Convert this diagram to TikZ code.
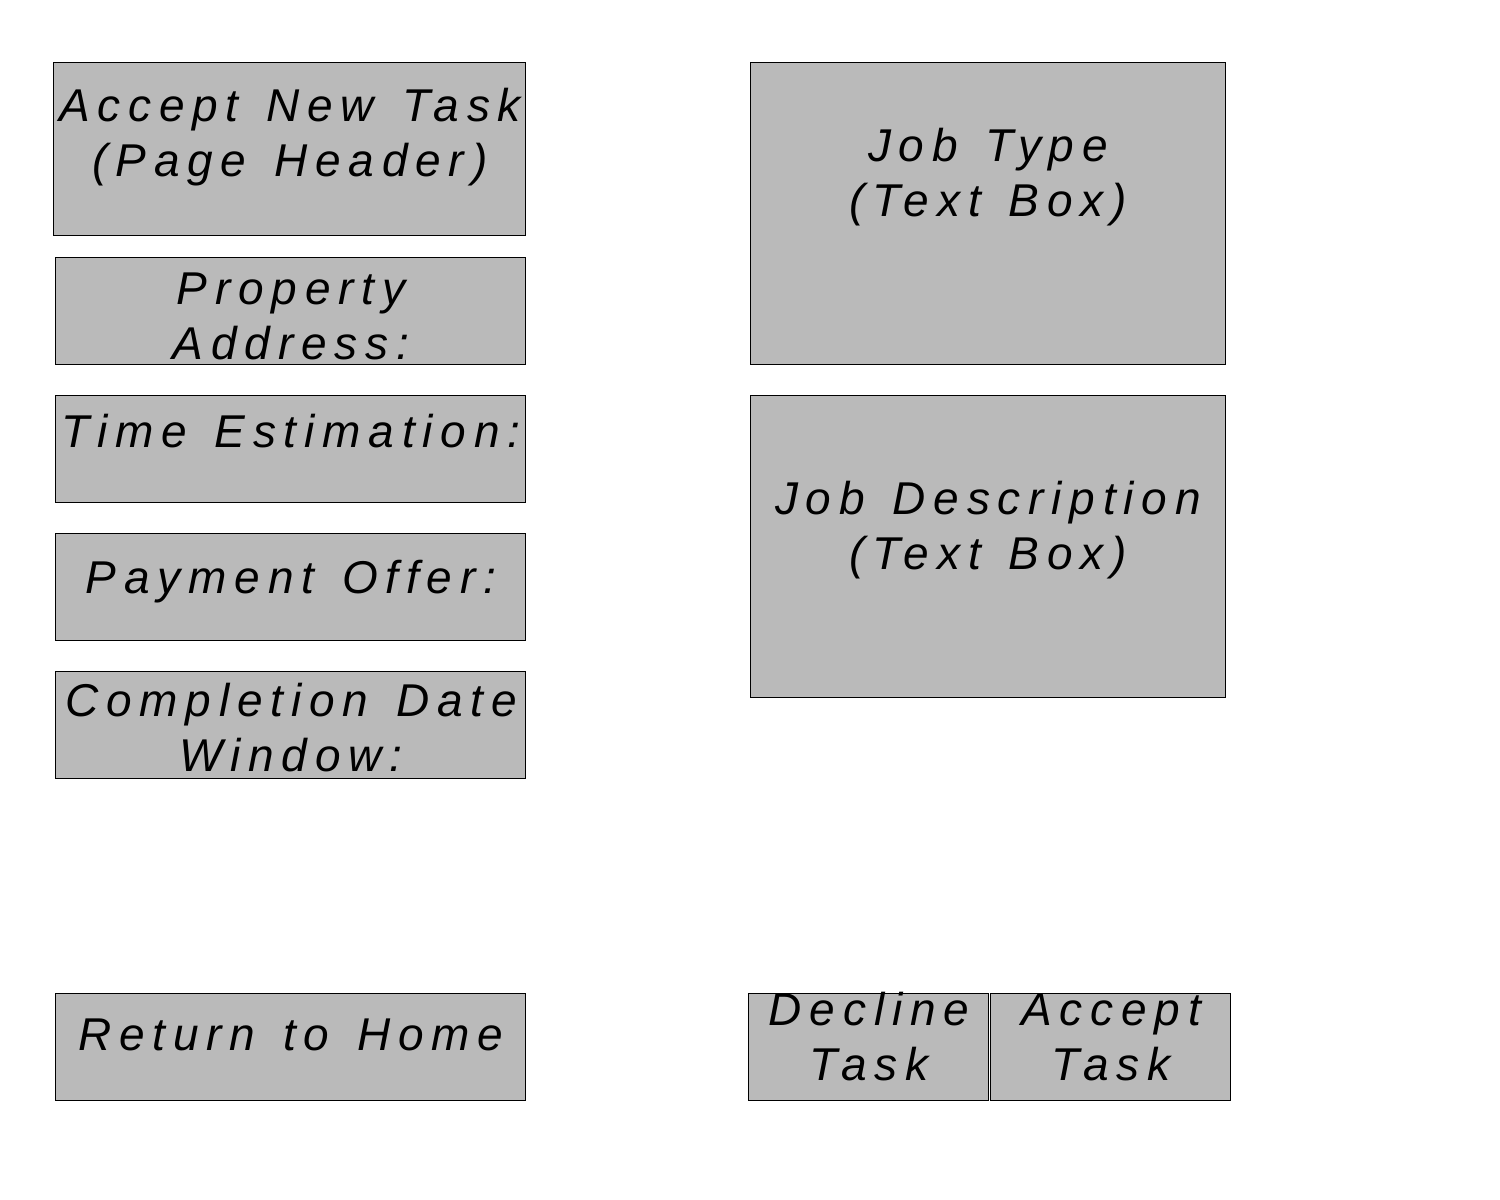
\documentclass[tikz,border=0pt]{standalone}
\usepackage{fontspec}
\setmainfont{Liberation Sans}[LetterSpace=17,WordSpace=1.35]
\definecolor{boxgray}{RGB}{186,186,186}
\newcommand{\capstrut}{\rule{0pt}{34pt}}
\begin{document}
\begin{tikzpicture}[x=1pt,y=-1pt,
  box/.style={draw=black, line width=0.9pt, fill=boxgray, rectangle, inner sep=0pt, outer sep=0pt, anchor=north west},
  lbl/.style={inner sep=0pt, anchor=north, align=center, font=\fontsize{46}{55}\selectfont\itshape}]
\useasboundingbox (0,0) rectangle (1500,1200);
% boxes
\node[box, minimum width=472pt, minimum height=173pt] (hdr) at (53,62) {};
\node[box, minimum width=470pt, minimum height=107pt] (addr) at (55,257) {};
\node[box, minimum width=470pt, minimum height=107pt] (time) at (55,395) {};
\node[box, minimum width=470pt, minimum height=107pt] (pay) at (55,533) {};
\node[box, minimum width=470pt, minimum height=107pt] (compl) at (55,671) {};
\node[box, minimum width=470pt, minimum height=107pt] (home) at (55,993) {};
\node[box, minimum width=475pt, minimum height=302pt] (jtype) at (750,62) {};
\node[box, minimum width=475pt, minimum height=302pt] (jdesc) at (750,395) {};
\node[box, minimum width=240pt, minimum height=107pt] (decl) at (748,993) {};
\node[box, minimum width=240pt, minimum height=107pt] (acc) at (990,993) {};
% labels
\node[lbl] (hdr-t) at (290,121-34) {\capstrut Accept New Task\\(Page Header)};
\node[lbl] (addr-t) at (291,304-34) {\capstrut Property\\Address:};
\node[lbl] (time-t) at (291,447-34) {\capstrut Time Estimation:};
\node[lbl] (pay-t) at (291,593-34) {\capstrut Payment Offer:};
\node[lbl] (compl-t) at (291,716-34) {\capstrut Completion Date\\Window:};
\node[lbl] (home-t) at (291,1050-34) {\capstrut Return to Home};
\node[lbl] (jtype-t) at (988,161-34) {\capstrut Job Type\\(Text Box)};
\node[lbl] (jdesc-t) at (988,514-34) {\capstrut Job Description\\(Text Box)};
\node[lbl] (decl-t) at (869,1025-34) {\capstrut Decline\\Task};
\node[lbl] (acc-t) at (1111,1025-34) {\capstrut Accept\\Task};
\end{tikzpicture}
\end{document}
